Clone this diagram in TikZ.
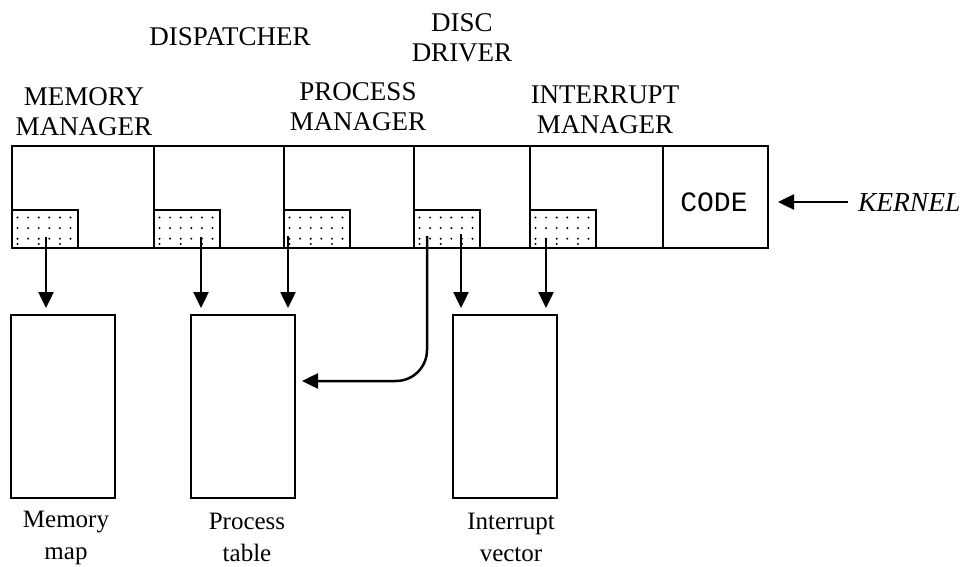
\documentclass[tikz,border=0pt]{standalone}
\usepackage{fontspec}
\setmainfont{Liberation Serif}
\newfontfamily\codefont{Liberation Mono}
\usetikzlibrary{arrows.meta,calc}
\begin{document}
\begin{tikzpicture}[x=1pt,y=-1pt,line width=2pt,
  cell/.style={draw,rectangle,inner sep=0pt,outer sep=0pt,anchor=north west,minimum height=102pt},
  shade/.style={draw,rectangle,inner sep=0pt,outer sep=0pt,anchor=south west,minimum width=66pt,minimum height=38pt},
  store/.style={draw,rectangle,inner sep=0pt,outer sep=0pt,anchor=north west,minimum width=104pt,minimum height=183pt},
  toplabel/.style={align=center,inner sep=0pt,font=\fontsize{27}{30}\selectfont},
  botlabel/.style={align=center,inner sep=0pt,font=\fontsize{25}{32}\selectfont},
  arr/.style={-{Triangle[length=16pt,width=15pt]},line width=2.5pt,shorten >=7pt},
  dot/.style={fill=black}]
\fill[white] (0,0) rectangle (962,567);
\useasboundingbox (0,0) rectangle (962,567);

% kernel cells
\node[cell,minimum width=142pt] (c1) at (12,146) {};
\node[cell,minimum width=130pt] (c2) at (154,146) {};
\node[cell,minimum width=130pt] (c3) at (284,146) {};
\node[cell,minimum width=116pt] (c4) at (414,146) {};
\node[cell,minimum width=133pt] (c5) at (530,146) {};
\node[cell,minimum width=105pt] (c6) at (663,146) {};

% shaded boxes
\foreach \k in {1,...,5}{
  \node[shade] (s\k) at (c\k.south west) {};
  \foreach \i in {0,...,5}{
    \foreach \j in {0,1,2}{
      \fill[dot] ($(s\k.north west)+(5.5+10.6*\i,7.5+10.6*\j)$) circle (1.1);
    }
  }
  \foreach \i in {0,2,4}{
    \fill[dot] ($(s\k.north west)+(5.5+10.6*\i,34)$) circle (1.1);
  }
}

% storage boxes
\node[store] (b1) at (11,315) {};
\node[store] (b2) at (191,315) {};
\node[store] (b3) at (453,315) {};

% labels
\node[toplabel] (mm) at (84,112) {MEMORY\\MANAGER};
\node[toplabel] (dis) at (230,37) {DISPATCHER};
\node[toplabel] (dd) at (462,38) {DISC\\DRIVER};
\node[toplabel] (pm) at (358,107) {PROCESS\\MANAGER};
\node[toplabel] (im) at (605,110) {INTERRUPT\\MANAGER};
\node[inner sep=0pt,font=\codefont\fontsize{28}{32}\selectfont] (code) at (714,202) {CODE};
\node[inner sep=0pt,anchor=west,font=\itshape\fontsize{27.5}{30}\selectfont] (kernel) at (857,202) {KERNEL};
\node[botlabel] (mmap) at (66,538) {Memory\\map};
\node[botlabel] (ptab) at (247,537) {Process\\table};
\node[botlabel] (ivec) at (511,537) {Interrupt\\vector};

% arrow origins
\coordinate (a1) at (46,237);
\coordinate (a2) at (201,237);
\coordinate (a3) at (288,236);
\coordinate (a4) at (427,236);
\coordinate (a5) at (461,234);
\coordinate (a6) at (546,238);
\coordinate (hy) at (0,381);

\draw[arr] (a1) -- (a1 |- b1.north);
\draw[arr] (a2) -- (a2 |- b2.north);
\draw[arr] (a3) -- (a3 |- b2.north);
\draw[arr,rounded corners=31pt] (a4) |- (b2.east |- hy);
\draw[arr] (a5) -- (a5 |- b3.north);
\draw[arr] (a6) -- (a6 |- b3.north);
\draw[arr,shorten <=9pt,shorten >=10pt] (kernel.west) -- (kernel.west -| c6.east);
\end{tikzpicture}
\end{document}
